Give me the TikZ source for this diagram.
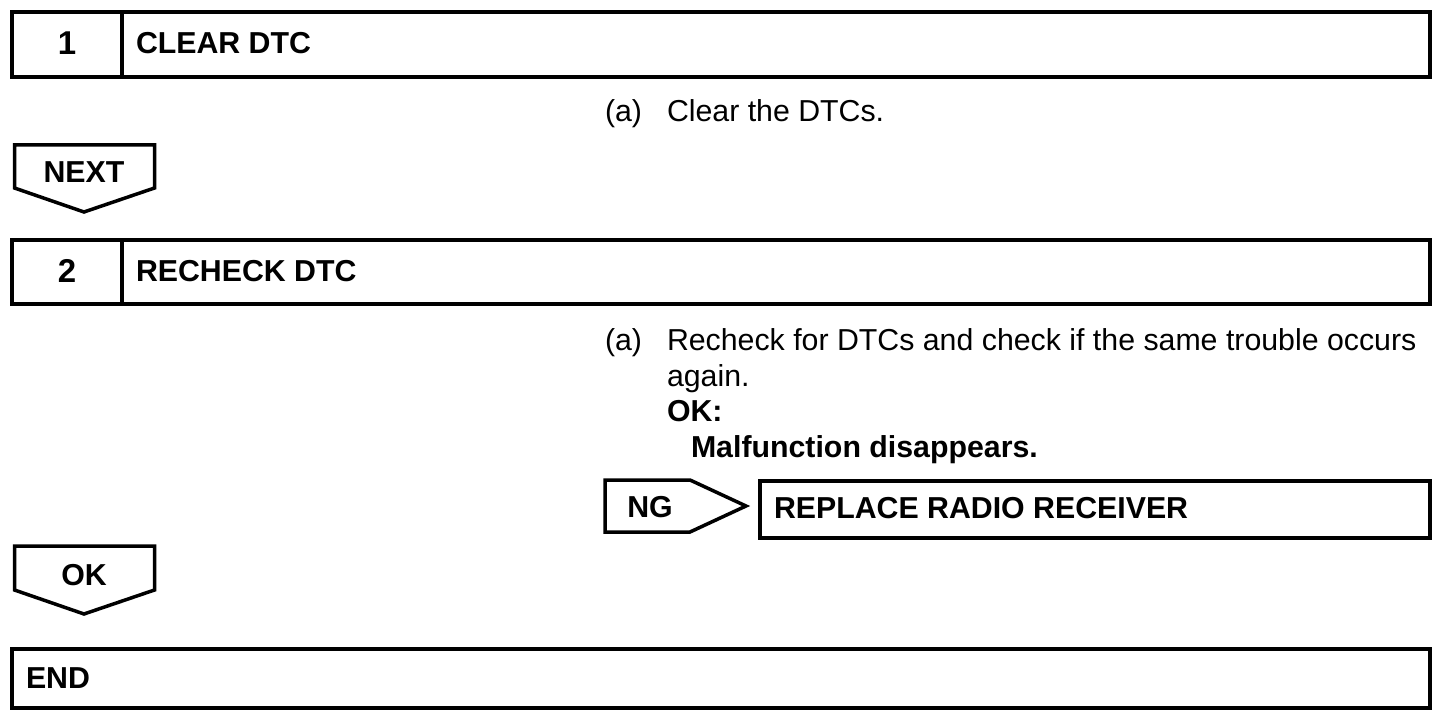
\documentclass[tikz,border=0pt]{standalone}
\usepackage{fontspec}
\setmainfont{Liberation Sans}
\usetikzlibrary{positioning}
\begin{document}
\begin{tikzpicture}[x=1pt, y=-1pt, line width=4pt, line join=miter]
 % Define block styles
	\tikzstyle{frame} = [draw, line width=4pt]
	\tikzstyle{tag} = [draw, line width=3.5pt]
	\tikzstyle{title} = [anchor=base west, inner sep=0pt, font=\fontsize{30.3}{36}\selectfont\bfseries]
	\tikzstyle{number} = [anchor=base, inner sep=0pt, font=\fontsize{30.3}{36}\selectfont\bfseries]
	\tikzstyle{digit} = [anchor=base, inner sep=0pt, font=\fontsize{33}{36}\selectfont\bfseries]
	\tikzstyle{body} = [anchor=base west, inner sep=0pt, font=\fontsize{30.3}{36}\selectfont]
	\useasboundingbox (0,0) rectangle (1456,722);
%%====Step 1===============================================================
	\draw[frame] (12,12) rectangle (1430,77);
	\draw[frame] (122,12) -- (122,77);
	\node	[digit]		(num1)		at (67,55)		{1};
	\node	[title]		(clear)		at (134,54)		{CLEAR DTC};
	\node	[body]		(a1)		at (603,122)	{(a)};
	\node	[body]		(cleartxt)	at (665,122)	{Clear the DTCs.};
%%====NEXT===============================================================
	\draw[tag] (14.5,145) -- (154.5,145) -- (154.5,188) -- (84,212) -- (14.5,188) -- cycle;
	\node	[number]	(next)		at (84,183)		{NEXT};
%%====Step 2===============================================================
	\draw[frame] (12,240) rectangle (1430,304);
	\draw[frame] (122,240) -- (122,304);
	\node	[digit]		(num2)		at (67,282)		{2};
	\node	[title]		(recheck)	at (134,281)	{RECHECK DTC};
	\node	[body]		(a2)		at (603,350)	{(a)};
	\node	[body]		(rechecktxt) at (665,350)	{Recheck for DTCs and check if the same trouble occurs};
	\node	[body]		(again)		at (665,386)	{again.};
	\node	[title]		(okhead)	at (665,421)	{OK:};
	\node	[title]		(malf)		at (689,457)	{Malfunction disappears.};
%%====NG===============================================================
	\draw[tag] (605,480) -- (690,480) -- (746,506) -- (690,532) -- (605,532) -- cycle;
	\node	[number]	(ng)		at (650,517)	{NG};
	\draw[frame] (760,481) rectangle (1430,538);
	\node	[title]		(replace)	at (772,518)	{REPLACE RADIO RECEIVER};
%%====OK===============================================================
	\draw[tag] (14.5,546) -- (154.5,546) -- (154.5,590) -- (84,614) -- (14.5,590) -- cycle;
	\node	[number]	(ok)		at (84,585)		{OK};
%%====END===============================================================
	\draw[frame] (12,649) rectangle (1430,708);
	\node	[title]		(finish)	at (24,688)		{END};
\end{tikzpicture}
\end{document}
